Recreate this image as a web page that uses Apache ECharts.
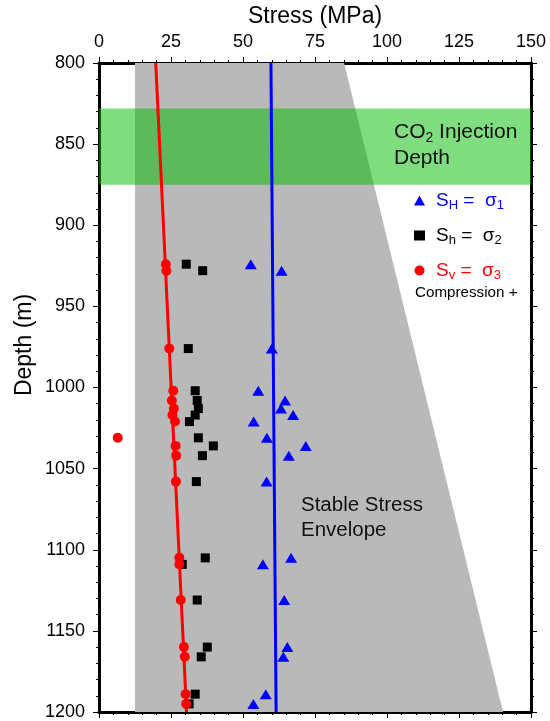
<!DOCTYPE html>
<html>
<head>
<meta charset="utf-8">
<script src="https://cdn.jsdelivr.net/npm/echarts@6/dist/echarts.min.js"></script>
<style>
  html, body { margin: 0; padding: 0; background: #fff; }
  #chart { width: 550px; height: 721px; }
</style>
</head>
<body>
<div id="chart"></div>
<script>
// depths (m) of the measurements, shared by the three stress series
const depths = [924, 928, 976, 1002, 1008, 1013, 1017, 1021, 1031, 1036, 1042, 1058, 1105, 1109, 1131, 1160, 1166, 1189, 1195];
// SH = sigma1 (MPa)
const sHmax = [52.7, 63.4, 60.0, 55.3, 64.6, 63.2, 67.4, 53.7, 58.3, 71.8, 65.9, 58.2, 66.7, 56.9, 64.3, 65.4, 64.0, 57.9, 53.6];
// Sh = sigma2 (MPa)
const sHmin = [30.3, 36.0, 31.0, 33.4, 34.1, 34.5, 33.4, 31.4, 34.5, 39.7, 35.9, 33.8, 36.9, 28.9, 34.1, 37.6, 35.5, 33.4, 31.3];
// Sv = sigma3 (MPa)
const sV = [23.2, 23.4, 24.4, 25.8, 25.3, 26.0, 25.5, 26.4, 6.5, 26.6, 26.8, 26.7, 27.9, 27.9, 28.4, 29.5, 29.8, 30.1, 30.3];

// trend lines
const lineDepth = [800, 1200];
const svLine = [19.7, 30.4];
const shLine = [59.7, 61.5];

// stable stress envelope outline
const envStress = [12.5, 85.1, 140.3, 12.5];
const envDepth = [800, 800, 1200, 1200];

// CO2 injection interval
const injTop = 828;
const injBottom = 875;

const font = "'Liberation Sans', Arial, Helvetica, sans-serif";

const chart = echarts.init(document.getElementById("chart"));

const pairs = (xs, ys) => xs.map((x, i) => [x, ys[i]]);

function frameAxis(extra) {
  return Object.assign({
    type: "value",
    axisLine: { show: true, onZero: false, lineStyle: { color: "#000", width: 3 } },
    axisTick: { show: true, length: 6, lineStyle: { color: "#000", width: 1 } },
    minorTick: { show: true, splitNumber: 5, length: 3, lineStyle: { color: "#000", width: 1 } },
    splitLine: { show: false },
    minorSplitLine: { show: false },
  }, extra);
}

const legendText = {
  SH: "{s|S}{sub|H}{s| =  σ}{sub|1}",
  Sh: "{s|S}{sub|h}{s| =  σ}{sub|2}",
  Sv: "{s|S}{sub|v}{s| =  σ}{sub|3}",
};

chart.setOption({
  animation: false,
  textStyle: { fontFamily: font },
  grid: { left: 99, right: 19, top: 63, bottom: 9 },
  xAxis: [
    frameAxis({
      position: "top",
      min: 0,
      max: 150,
      interval: 25,
      name: "Stress (MPa)",
      nameLocation: "middle",
      nameGap: 35,
      nameTextStyle: { fontSize: 23, color: "#000", fontFamily: font },
      axisLabel: { fontSize: 18, color: "#000", margin: 12, fontFamily: font },
    }),
    frameAxis({
      position: "bottom",
      min: 0,
      max: 150,
      interval: 25,
      axisLabel: { show: false },
    }),
  ],
  yAxis: [
    frameAxis({
      position: "left",
      inverse: true,
      min: 800,
      max: 1200,
      interval: 50,
      axisLabel: {
        fontSize: 18, color: "#000", margin: 14, fontFamily: font,
        formatter: (v) => String(v),
      },
    }),
    frameAxis({
      position: "right",
      inverse: true,
      min: 800,
      max: 1200,
      interval: 50,
      axisLabel: { show: false },
    }),
  ],
  legend: {
    orient: "vertical",
    left: 409,
    top: 186,
    itemWidth: 11,
    itemHeight: 10,
    itemGap: 14,
    selectedMode: false,
    data: [
      { name: "SH", textStyle: { color: "#0000ff" } },
      { name: "Sh", textStyle: { color: "#000" } },
      { name: "Sv", textStyle: { color: "#ff0000" } },
    ],
    formatter: (name) => legendText[name],
    textStyle: {
      fontFamily: font,
      rich: {
        s: { fontSize: 19, lineHeight: 23 },
        sub: { fontSize: 13, lineHeight: 13, verticalAlign: "bottom" },
      },
      padding: [0, 0, 0, 6],
    },
  },
  graphic: [
    {
      type: "text",
      left: 415,
      top: 285,
      style: { text: "Compression +", fill: "#000", font: "15.2px " + font },
    },
    {
      type: "text",
      left: 394,
      top: 122,
      z: 10,
      style: {
        text: "{a|CO}{b|2}{a| Injection}\n{a|Depth}",
        fill: "#111",
        rich: {
          a: { fontSize: 21, lineHeight: 26, fontFamily: font },
          b: { fontSize: 14, lineHeight: 14, verticalAlign: "bottom", fontFamily: font },
        },
      },
    },
    {
      type: "text",
      left: 301,
      top: 493,
      z: 10,
      style: {
        text: "Stable Stress\nEnvelope",
        fill: "#111",
        font: "20.5px " + font,
        lineHeight: 25,
      },
    },
    {
      type: "text",
      x: 25,
      y: 345,
      rotation: Math.PI / 2,
      style: {
        text: "Depth (m)",
        fill: "#000",
        font: "23px " + font,
        align: "center",
        verticalAlign: "middle",
      },
    },
  ],
  series: [
    {
      name: "envelope",
      type: "custom",
      z: 1,
      silent: true,
      data: [[envStress[0], envDepth[0]]],
      renderItem: (params, api) => ({
        type: "polygon",
        shape: { points: envStress.map((s, i) => api.coord([s, envDepth[i]])) },
        style: { fill: "#b9b9b9" },
      }),
    },
    {
      name: "injection",
      type: "custom",
      z: 2,
      silent: true,
      data: [[0, injTop]],
      renderItem: (params, api) => {
        const p0 = api.coord([0, injTop]);
        const p1 = api.coord([150, injBottom]);
        return {
          type: "rect",
          shape: { x: p0[0], y: p0[1], width: p1[0] - p0[0], height: p1[1] - p0[1] },
          style: { fill: "rgba(0,185,0,0.5)" },
        };
      },
    },
    {
      name: "SvLine",
      type: "line",
      z: 3,
      symbol: "none",
      data: pairs(svLine, lineDepth),
      lineStyle: { color: "#ff0000", width: 3 },
    },
    {
      name: "SHLine",
      type: "line",
      z: 3,
      symbol: "none",
      data: pairs(shLine, lineDepth),
      lineStyle: { color: "#0000ff", width: 3 },
    },
    {
      name: "Sh",
      type: "scatter",
      z: 4,
      symbol: "rect",
      symbolSize: 9,
      itemStyle: { color: "#000", opacity: 1 },
      data: pairs(sHmin, depths),
    },
    {
      name: "SH",
      type: "scatter",
      z: 4,
      symbol: "triangle",
      symbolSize: [12, 10],
      itemStyle: { color: "#0000ff", opacity: 1 },
      data: pairs(sHmax, depths),
    },
    {
      name: "Sv",
      type: "scatter",
      z: 5,
      symbol: "circle",
      symbolSize: 10,
      itemStyle: { color: "#ff0000", opacity: 1 },
      data: pairs(sV, depths),
    },
  ],
});
</script>
</body>
</html>
